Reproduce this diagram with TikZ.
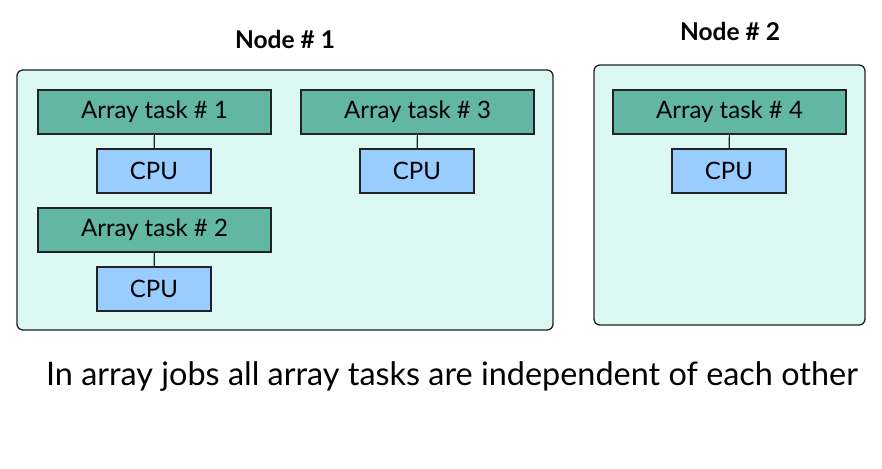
\documentclass[tikz,border=0pt]{standalone}
\usepackage{fontspec}
\setmainfont{Lato}
\definecolor{nodebg}{HTML}{DCF8F2}
\definecolor{taskbg}{HTML}{62B6A4}
\definecolor{cpubg}{HTML}{99CCFF}
\definecolor{edge}{HTML}{222222}
\begin{document}
\begin{tikzpicture}[x=1pt,y=-1pt,
  hostbox/.style={draw=edge,line width=1.3pt,fill=nodebg,rounded corners=6pt},
  taskbox/.style={draw=edge,line width=1.1pt,fill=taskbg,minimum width=233pt,minimum height=44pt,inner sep=0pt,font=\fontsize{24}{28}\selectfont},
  cpubox/.style={draw=edge,line width=1.1pt,fill=cpubg,minimum width=114pt,minimum height=44pt,inner sep=0pt,font=\fontsize{24}{28}\selectfont},
  link/.style={draw=edge,line width=1.1pt},
  title/.style={font=\bfseries\fontsize{24.5}{28}\selectfont}]
\useasboundingbox (0,0) rectangle (882,468);
\draw[hostbox] (17,70) rectangle (553,330);
\draw[hostbox] (594,65) rectangle (865,325);
\node[title] (t1) at (285,39) {Node \# 1};
\node[title] (t2) at (730,31) {Node \# 2};
\node[taskbox] (a1) at (154.5,112) {Array task \# 1};
\node[cpubox] (c1) at (154,171) {CPU};
\node[taskbox] (a3) at (417.5,112) {Array task \# 3};
\node[cpubox] (c3) at (417,171) {CPU};
\node[taskbox] (a2) at (154.5,230) {Array task \# 2};
\node[cpubox] (c2) at (154,289) {CPU};
\node[taskbox] (a4) at (729.5,112) {Array task \# 4};
\node[cpubox] (c4) at (729,171) {CPU};
\draw[link] (a1) -- (c1);
\draw[link] (a2) -- (c2);
\draw[link] (a3) -- (c3);
\draw[link] (a4) -- (c4);
\node[font=\fontsize{32.4}{36}\selectfont] (cap) at (452,377) {In array jobs all array tasks are independent of each other};
\end{tikzpicture}
\end{document}
